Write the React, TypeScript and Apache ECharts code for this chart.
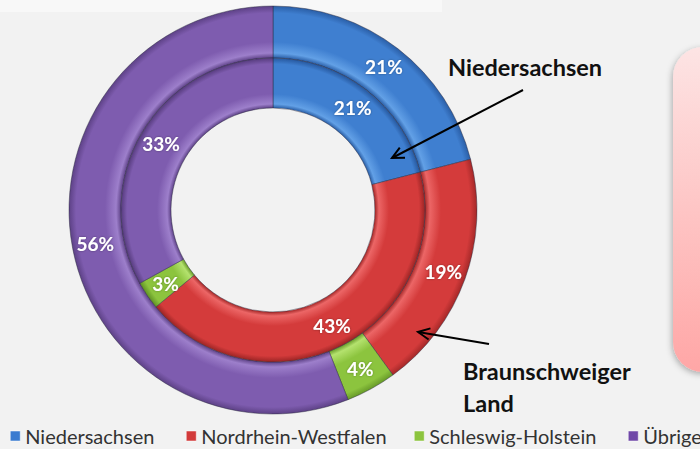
import React, { useEffect, useRef } from "react";
import * as echarts from "echarts";

const categories = ["Niedersachsen", "Nordrhein-Westfalen", "Schleswig-Holstein", "Übrige"];
// outer ring: Braunschweiger Land
const outerValues = [21, 19, 4, 56];
// inner ring: Niedersachsen
const innerValues = [21, 43, 3, 33];

const palette = [
  { base: "#3F7FD0", light: "#62A0E6", dark: "#2A5EA6", legend: "#3A7BD0" },
  { base: "#D43B3B", light: "#EC6666", dark: "#A42828", legend: "#D23A3A" },
  { base: "#8CC43E", light: "#B4E26E", dark: "#679A28", legend: "#8CC43E" },
  { base: "#7E5CAF", light: "#9D7FCB", dark: "#5D4186", legend: "#7048A8" },
];

const CX = 273;
const CY = 210;
const R_OUT = 204;
const R_MID = 152;
const R_IN = 102;

function ringGradient(c: { base: string; light: string; dark: string }) {
  const f = (v: number) => v / R_OUT;
  return {
    type: "radial",
    x: CX,
    y: CY,
    r: R_OUT,
    global: true,
    colorStops: [
      { offset: 0, color: c.base },
      { offset: f(R_IN), color: c.dark },
      { offset: f(R_IN + 4), color: c.light },
      { offset: f(R_IN + 14), color: c.base },
      { offset: f(R_MID - 6), color: c.base },
      { offset: f(R_MID - 1), color: c.dark },
      { offset: f(R_MID), color: c.dark },
      { offset: f(R_MID + 5), color: c.light },
      { offset: f(R_MID + 16), color: c.base },
      { offset: f(R_OUT - 7), color: c.base },
      { offset: 1, color: c.dark },
    ],
  };
}

function arrow(x1: number, y1: number, x2: number, y2: number) {
  const ang = Math.atan2(y2 - y1, x2 - x1);
  const len = 13;
  const spread = 0.45;
  const a1 = ang + Math.PI - spread;
  const a2 = ang + Math.PI + spread;
  return [
    { type: "line", shape: { x1, y1, x2, y2 }, style: { stroke: "#000", lineWidth: 2 }, z: 100 },
    {
      type: "polyline",
      shape: {
        points: [
          [x2 + len * Math.cos(a1), y2 + len * Math.sin(a1)],
          [x2, y2],
          [x2 + len * Math.cos(a2), y2 + len * Math.sin(a2)],
        ],
      },
      style: { stroke: "#000", lineWidth: 2, fill: null },
      z: 100,
    },
  ];
}

const legendLefts = [10, 186, 414, 628];

export default function App() {
  const ref = useRef<HTMLDivElement>(null);
  useEffect(() => {
    if (!ref.current) return;
    const chart = echarts.init(ref.current, null, { renderer: "svg" });
    const mk = (vals: number[]) =>
      vals.map((v, i) => ({
        name: categories[i],
        value: v,
        itemStyle: { color: ringGradient(palette[i]) },
      }));
    const label = {
      show: true,
      position: "inside",
      formatter: "{c}%",
      color: "#fff",
      fontWeight: "bold",
      fontSize: 19,
      fontFamily: "Lato",
      textBorderWidth: 0,
      textShadowColor: "rgba(0,0,0,0.35)",
      textShadowBlur: 2,
    };
    chart.setOption({
      animation: false,
      backgroundColor: "#F2F2F2",
      legend: categories.map((c, i) => ({
        show: true,
        left: legendLefts[i],
        top: 426,
        padding: 0,
        icon: "rect",
        itemWidth: 10,
        itemHeight: 10,
        itemGap: 0,
        selectedMode: false,
        textStyle: { fontSize: 20, fontFamily: "Lato", color: "#333" },
        data: [{ name: c, itemStyle: { color: palette[i].legend, borderColor: "#fff", borderWidth: 0.5 } }],
      })),
      series: [
        {
          type: "pie",
          name: "Braunschweiger Land",
          center: [CX, CY],
          radius: [R_MID, R_OUT],
          startAngle: 90,
          clockwise: true,
          avoidLabelOverlap: false,
          label,
          labelLine: { show: false },
          itemStyle: { borderColor: "rgba(40,40,60,0.45)", borderWidth: 1 },
          emphasis: { disabled: true },
          data: mk(outerValues),
        },
        {
          type: "pie",
          name: "Niedersachsen",
          center: [CX, CY],
          radius: [R_IN, R_MID],
          startAngle: 90,
          clockwise: true,
          avoidLabelOverlap: false,
          label,
          labelLine: { show: false },
          itemStyle: { borderColor: "rgba(40,40,60,0.45)", borderWidth: 1 },
          emphasis: { disabled: true },
          data: mk(innerValues),
        },
      ],
      graphic: [
        {
          type: "rect",
          shape: { x: 0, y: 0, width: 442, height: 12 },
          style: { fill: "#F8F8F8" },
          z: -10,
        },
        {
          type: "rect",
          shape: { x: 673, y: 47, width: 80, height: 325, r: 30 },
          style: {
            fill: {
              type: "linear",
              x: 0,
              y: 0,
              x2: 0,
              y2: 1,
              colorStops: [
                { offset: 0, color: "#FDE4E4" },
                { offset: 1, color: "#FFA6A6" },
              ],
            },
            shadowBlur: 6,
            shadowColor: "rgba(0,0,0,0.3)",
            shadowOffsetX: -1,
            shadowOffsetY: 2,
          },
          z: 1,
        },
        {
          type: "text",
          left: 448,
          top: 55,
          style: { text: "Niedersachsen", font: "bold 23.5px Lato", fill: "#111" },
          z: 100,
        },
        {
          type: "text",
          left: 463,
          top: 359,
          style: { text: "Braunschweiger", font: "bold 23.5px Lato", fill: "#111" },
          z: 100,
        },
        {
          type: "text",
          left: 463,
          top: 391,
          style: { text: "Land", font: "bold 23.5px Lato", fill: "#111" },
          z: 100,
        },
        ...arrow(523, 90, 392, 158),
        ...arrow(489, 344, 418, 332),
      ],
    });
    return () => chart.dispose();
  }, []);
  return (
    <div
      ref={ref}
      style={{ position: "fixed", left: 0, top: 0, width: 700, height: 449 }}
    />
  );
}
